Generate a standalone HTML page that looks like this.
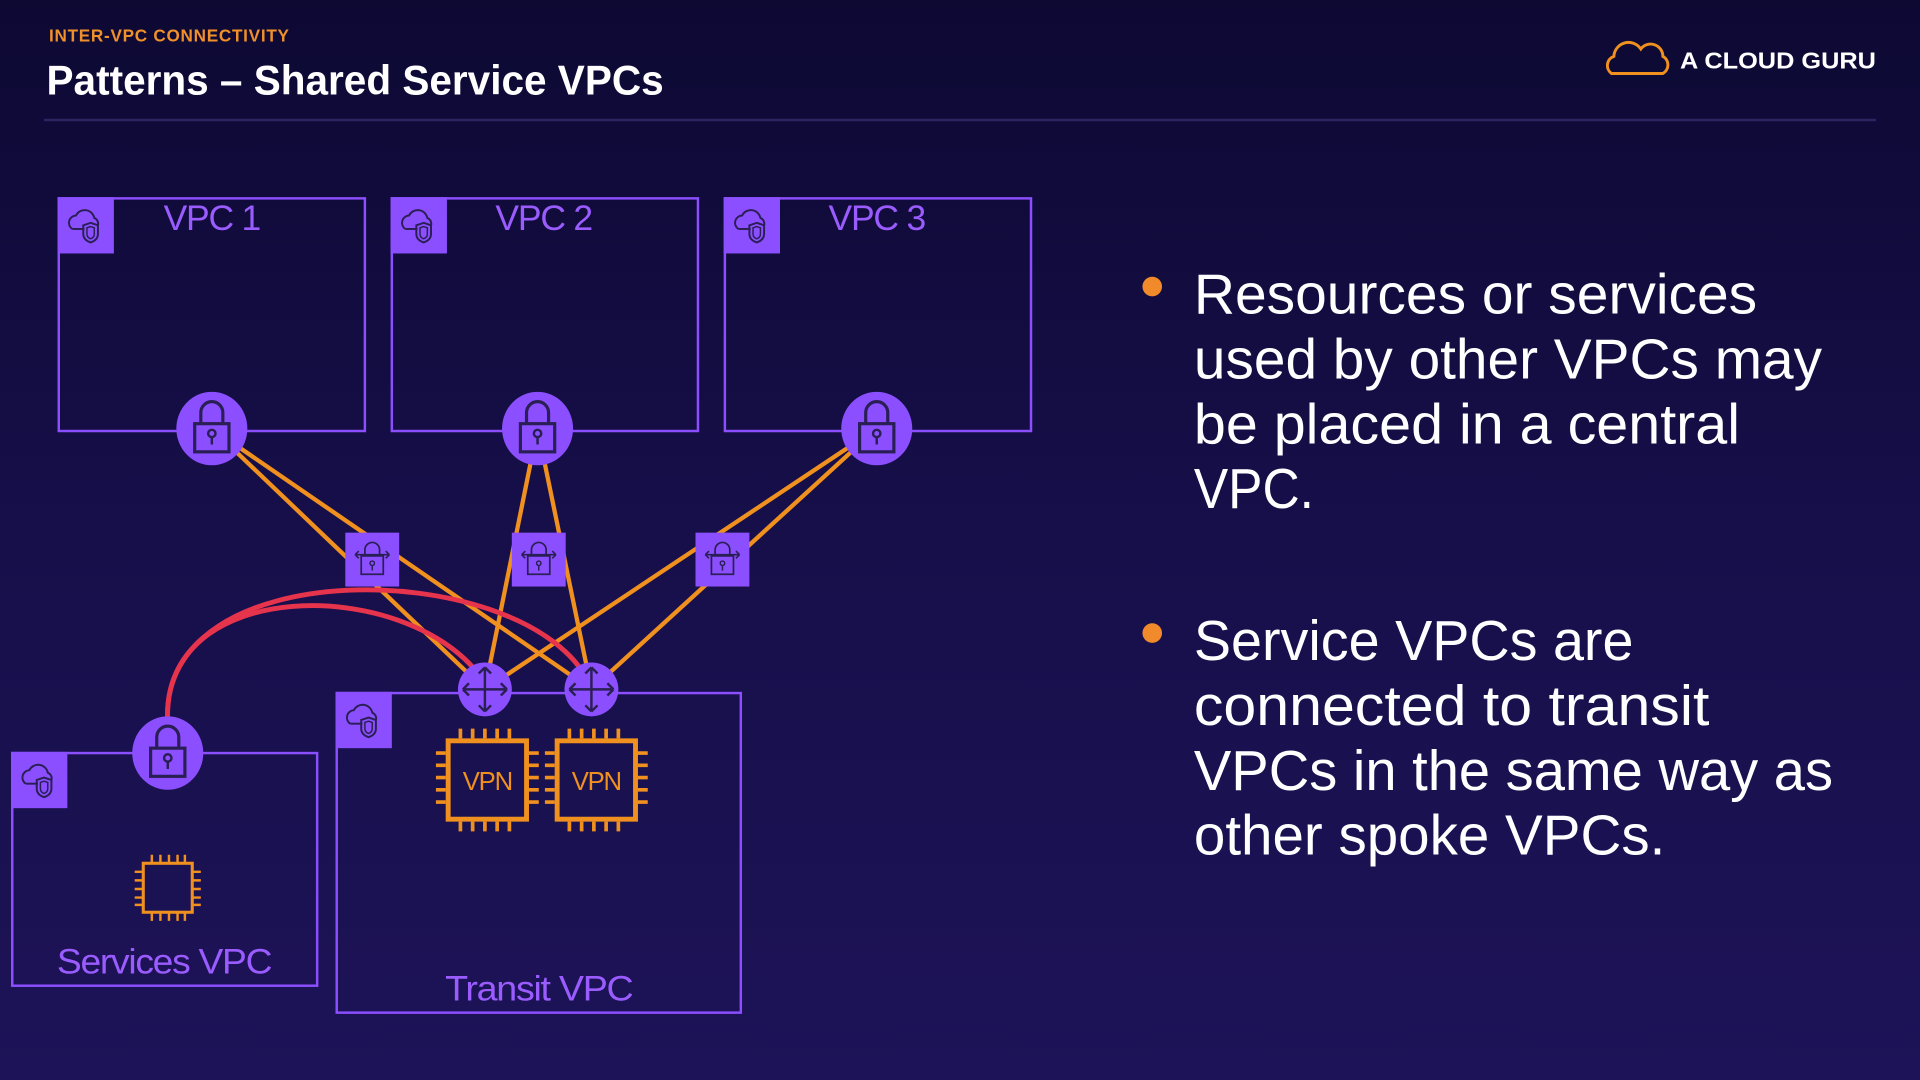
<!DOCTYPE html>
<html><head><meta charset="utf-8"><style>
html,body{margin:0;padding:0;width:1920px;height:1080px;overflow:hidden;background:#140d3f}
svg{display:block}
</style></head><body>
<svg width="1920" height="1080" viewBox="0 0 1568 882" xmlns="http://www.w3.org/2000/svg" font-family="Liberation Sans, sans-serif">
<defs>
<linearGradient id="bg" x1="0" y1="0" x2="0" y2="1">
<stop offset="0" stop-color="#0d0933"/><stop offset="0.5" stop-color="#170f4a"/><stop offset="1" stop-color="#1d1358"/>
</linearGradient>
<g id="corner">
<rect x="0" y="0" width="46" height="46" fill="#8c4fff"/>
<path d="M12 26 a6 6 0 0 1 3-11 a8 8 0 0 1 15 2 a5 5 0 0 1 3 6" fill="none" stroke="#2a1f55" stroke-width="1.6"/>
<path d="M12 26 h10" fill="none" stroke="#2a1f55" stroke-width="1.6"/>
<path d="M27 21 l6 2 v7 q0 5 -6 7 q-6 -2 -6 -7 v-7 z" fill="none" stroke="#2a1f55" stroke-width="1.6"/>
<path d="M27 24 l3 1 v5 q0 3 -3 4 q-3 -1 -3 -4 v-5 z" fill="none" stroke="#2a1f55" stroke-width="1.2"/>
</g>
<g id="lock">
<ellipse cx="0" cy="0" rx="29" ry="30" fill="#8c4fff"/>
<path d="M-9 -4 v-9 a9 9 0 0 1 18 0 v9" fill="none" stroke="#2a1f55" stroke-width="2.6"/>
<rect x="-14" y="-4" width="28" height="23" fill="none" stroke="#2a1f55" stroke-width="2.6"/>
<circle cx="0" cy="4" r="3" fill="none" stroke="#2a1f55" stroke-width="2"/>
<path d="M0 7 v6" stroke="#2a1f55" stroke-width="2"/>
</g>
<g id="gw">
<rect x="-22" y="-22" width="44" height="44" fill="#8c4fff"/>
<path d="M-6 -4 v-4 a6 6 0 0 1 12 0 v4" fill="none" stroke="#2a1f55" stroke-width="1.4"/>
<rect x="-9" y="-3" width="18" height="15" fill="none" stroke="#2a1f55" stroke-width="1.4"/>
<path d="M-14 -4 h28 M-14 -4 l3 -3 M-14 -4 l3 3 M14 -4 l-3 -3 M14 -4 l-3 3" fill="none" stroke="#2a1f55" stroke-width="1.3"/>
<circle cx="0" cy="3" r="1.8" fill="none" stroke="#2a1f55" stroke-width="1.2"/>
<path d="M0 5 v4" stroke="#2a1f55" stroke-width="1.2"/>
</g>
<g id="router">
<circle cx="0" cy="0" r="22" fill="#8c4fff"/>
<path d="M-18 0 h36 M0 -18 v36 M-18 0 l5 -5 M-18 0 l5 5 M18 0 l-5 -5 M18 0 l-5 5 M0 -18 l-5 5 M0 -18 l5 5 M0 18 l-5 -5 M0 18 l5 -5" fill="none" stroke="#2a1f55" stroke-width="2"/>
</g>
<g id="chip">
<rect x="-32" y="-32" width="64" height="64" fill="none" stroke="#f0901f" stroke-width="4"/>
<path d="M-22 -34 v-8 M-12 -34 v-8 M-2 -34 v-8 M8 -34 v-8 M18 -34 v-8 M-22 34 v8 M-12 34 v8 M-2 34 v8 M8 34 v8 M18 34 v8 M-34 -22 h-8 M-34 -12 h-8 M-34 -2 h-8 M-34 8 h-8 M-34 18 h-8 M34 -22 h8 M34 -12 h8 M34 -2 h8 M34 8 h8 M34 18 h8" stroke="#f0901f" stroke-width="3"/>
</g>
<g id="chipS">
<rect x="-20" y="-20" width="40" height="40" fill="none" stroke="#f0901f" stroke-width="2.5"/>
<path d="M-13 -21 v-6 M-6 -21 v-6 M1 -21 v-6 M8 -21 v-6 M14 -21 v-6 M-13 21 v6 M-6 21 v6 M1 21 v6 M8 21 v6 M14 21 v6 M-21 -13 h-6 M-21 -6 h-6 M-21 1 h-6 M-21 8 h-6 M-21 14 h-6 M21 -13 h6 M21 -6 h6 M21 1 h6 M21 8 h6 M21 14 h6" stroke="#f0901f" stroke-width="2"/>
</g>
</defs>
<rect width="1568" height="882" fill="url(#bg)"/>

<text x="40" y="34" font-size="14" font-weight="bold" fill="#f0902a" letter-spacing="0.6">INTER-VPC CONNECTIVITY</text>
<text x="38" y="77" font-size="34" font-weight="bold" fill="#ffffff" textLength="504" lengthAdjust="spacingAndGlyphs">Patterns – Shared Service VPCs</text>
<line x1="36" y1="98" x2="1532" y2="98" stroke="#2a2460" stroke-width="2"/>
<path d="M1316 60 a8 8 0 0 1 2-14 a12 12 0 0 1 22-6 a10 10 0 0 1 18 6 a8 8 0 0 1 0 14 z" fill="none" stroke="#f0901f" stroke-width="2.4"/>
<text x="1372" y="56" font-size="19" font-weight="bold" fill="#ffffff" textLength="160" lengthAdjust="spacingAndGlyphs">A CLOUD GURU</text>

<rect x="48" y="162" width="250" height="190" fill="none" stroke="#8c4fff" stroke-width="2"/>
<rect x="320" y="162" width="250" height="190" fill="none" stroke="#8c4fff" stroke-width="2"/>
<rect x="592" y="162" width="250" height="190" fill="none" stroke="#8c4fff" stroke-width="2"/>
<rect x="10" y="615" width="249" height="190" fill="none" stroke="#8c4fff" stroke-width="2"/>
<rect x="275" y="566" width="330" height="261" fill="none" stroke="#8c4fff" stroke-width="2"/>
<use href="#corner" x="47" y="161"/>
<use href="#corner" x="319" y="161"/>
<use href="#corner" x="591" y="161"/>
<use href="#corner" x="9" y="614"/>
<use href="#corner" x="274" y="565"/>
<g font-size="29" fill="#9a5cff" text-anchor="middle" letter-spacing="-1">
<text x="173" y="188">VPC 1</text>
<text x="444" y="188">VPC 2</text>
<text x="716" y="188">VPC 3</text>
<text x="134" y="795" textLength="175" lengthAdjust="spacingAndGlyphs">Services VPC</text>
<text x="440" y="817" textLength="153" lengthAdjust="spacingAndGlyphs">Transit VPC</text>
</g>

<g stroke="#f0901f" stroke-width="3.5" fill="none">
<line x1="173" y1="350" x2="396" y2="563"/>
<line x1="173" y1="350" x2="483" y2="563"/>
<line x1="439" y1="350" x2="396" y2="563"/>
<line x1="439" y1="350" x2="483" y2="563"/>
<line x1="716" y1="350" x2="396" y2="563"/>
<line x1="716" y1="350" x2="483" y2="563"/>
</g>
<g stroke="#e6344c" stroke-width="4" fill="none">
<path d="M137 590 C 130 470 330 470 392 552"/>
<path d="M137 590 C 128 450 420 455 478 552"/>
</g>

<use href="#lock" x="173" y="350"/>
<use href="#lock" x="439" y="350"/>
<use href="#lock" x="716" y="350"/>
<use href="#lock" x="137" y="615"/>
<use href="#gw" x="304" y="457"/>
<use href="#gw" x="440" y="457"/>
<use href="#gw" x="590" y="457"/>
<use href="#router" x="396" y="563"/>
<use href="#router" x="483" y="563"/>
<use href="#chip" x="398" y="637"/>
<use href="#chip" x="487" y="637"/>
<text x="398" y="645" font-size="21" fill="#f0901f" text-anchor="middle" letter-spacing="-1">VPN</text>
<text x="487" y="645" font-size="21" fill="#f0901f" text-anchor="middle" letter-spacing="-1">VPN</text>
<use href="#chipS" x="137" y="725"/>

<circle cx="941" cy="234" r="8" fill="#f08a2a"/>
<circle cx="941" cy="517" r="8" fill="#f08a2a"/>
<g font-size="46" fill="#ffffff" lengthAdjust="spacingAndGlyphs">
<text x="975" y="256" textLength="460" lengthAdjust="spacingAndGlyphs">Resources or services</text>
<text x="975" y="309" textLength="513" lengthAdjust="spacingAndGlyphs">used by other VPCs may</text>
<text x="975" y="362" textLength="446" lengthAdjust="spacingAndGlyphs">be placed in a central</text>
<text x="975" y="415" textLength="98" lengthAdjust="spacingAndGlyphs">VPC.</text>
<text x="975" y="539" textLength="359" lengthAdjust="spacingAndGlyphs">Service VPCs are</text>
<text x="975" y="592" textLength="421" lengthAdjust="spacingAndGlyphs">connected to transit</text>
<text x="975" y="645" textLength="522" lengthAdjust="spacingAndGlyphs">VPCs in the same way as</text>
<text x="975" y="698" textLength="385" lengthAdjust="spacingAndGlyphs">other spoke VPCs.</text>
</g>
</svg>
</body></html>
